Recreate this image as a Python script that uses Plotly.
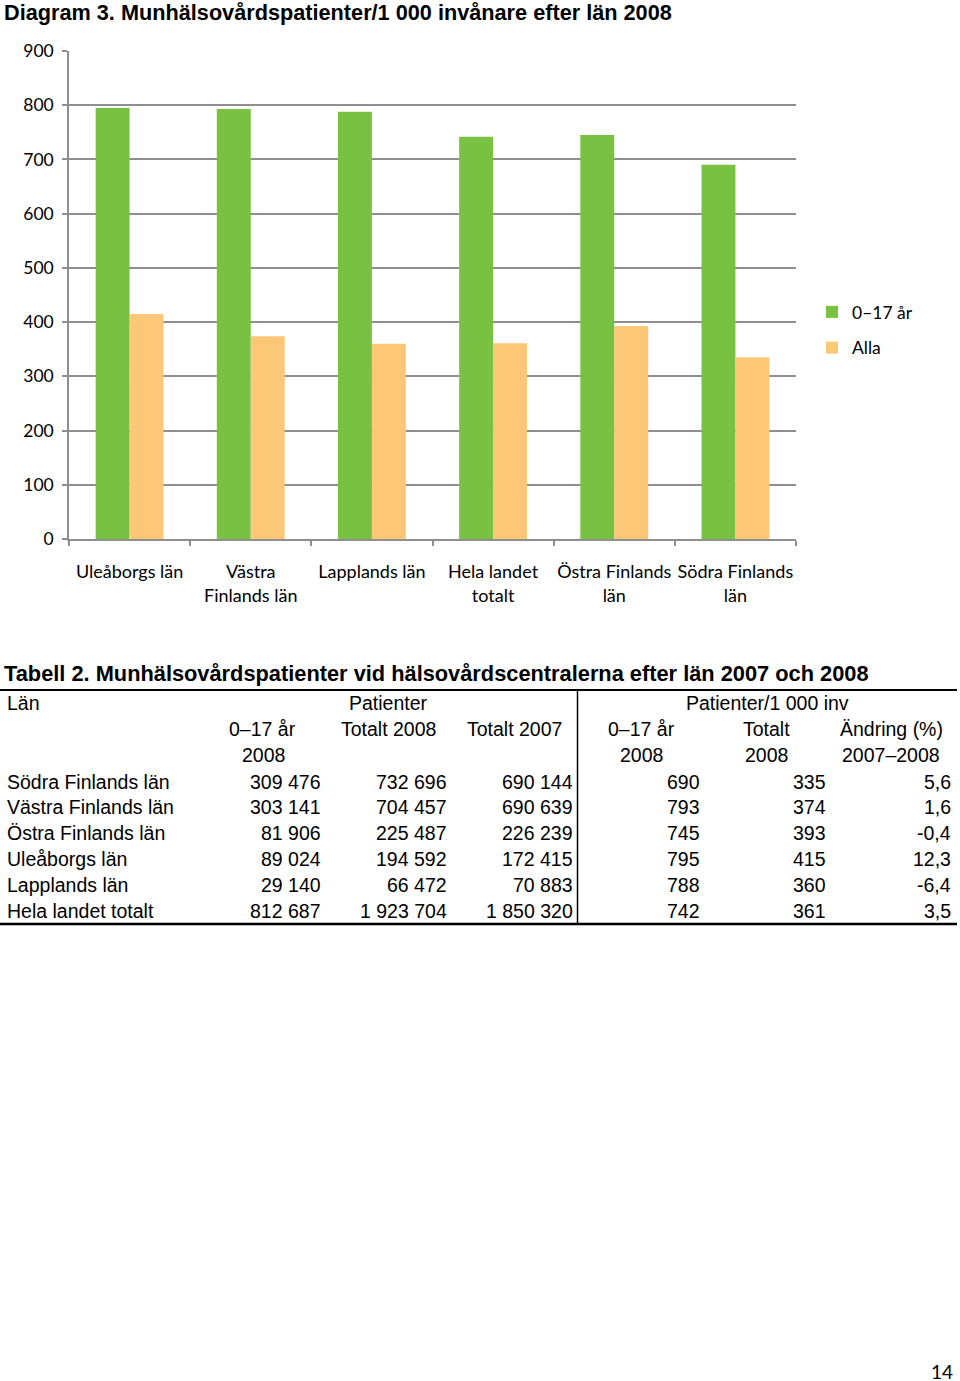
import plotly.graph_objects as go

W, H = 960, 1381

# ---- chart data ----
categories = ["Uleåborgs län", "Västra<br>Finlands län", "Lapplands län",
              "Hela landet<br>totalt", "Östra Finlands<br>län", "Södra Finlands<br>län"]
age_0_17 = [795, 793, 788, 742, 745, 690]
alla = [415, 374, 360, 361, 393, 335]
y_ticks = [0, 100, 200, 300, 400, 500, 600, 700, 800, 900]

# ---- table data ----
table_regions = ["Södra Finlands län", "Västra Finlands län", "Östra Finlands län",
                 "Uleåborgs län", "Lapplands län", "Hela landet totalt"]
pat_0_17_2008 = ["309 476", "303 141", "81 906", "89 024", "29 140", "812 687"]
pat_tot_2008 = ["732 696", "704 457", "225 487", "194 592", "66 472", "1 923 704"]
pat_tot_2007 = ["690 144", "690 639", "226 239", "172 415", "70 883", "1 850 320"]
inv_0_17_2008 = ["690", "793", "745", "795", "788", "742"]
inv_tot_2008 = ["335", "374", "393", "415", "360", "361"]
change_pct = ["5,6", "1,6", "-0,4", "12,3", "-6,4", "3,5"]

GREEN = "#79c143"
ORANGE = "#fcc877"
GRID = "#8f8f8f"
CAL = "Lato, Carlito, Calibri, sans-serif"
ARIAL = "Liberation Sans, Arial, sans-serif"


def px(x):
    return x / W


def py(y):
    return 1 - y / H


fig = go.Figure()
fig.add_trace(go.Bar(x=categories, y=age_0_17, name="0–17 år", marker_color=GREEN,
                     marker_line_width=0, legendgroup="a"))
fig.add_trace(go.Bar(x=categories, y=alla, name="Alla", marker_color=ORANGE,
                     marker_line_width=0, legendgroup="b"))

annotations = []
shapes = []

# Titles
annotations.append(dict(x=px(2), y=py(13), xref="paper", yref="paper", xanchor="left",
                        yanchor="middle", showarrow=False,
                        text="<b>Diagram 3. Munhälsovårdspatienter/1 000 invånare efter län 2008</b>",
                        font=dict(family=ARIAL, size=21.7, color="black")))
annotations.append(dict(x=px(2), y=py(673), xref="paper", yref="paper", xanchor="left",
                        yanchor="middle", showarrow=False,
                        text="<b>Tabell 2. Munhälsovårdspatienter vid hälsovårdscentralerna efter län 2007 och 2008</b>",
                        font=dict(family=ARIAL, size=21.8, color="black")))

TF = dict(family=ARIAL, size=19.5, color="black")


def txt(x, y, s, anchor):
    annotations.append(dict(x=px(x), y=py(y), xref="paper", yref="paper", xanchor=anchor,
                            yanchor="middle", showarrow=False, text=s, font=TF))


# header
txt(5, 703, "Län", "left")
txt(388, 703, "Patienter", "center")
txt(767, 703, "Patienter/1 000 inv", "center")
txt(262, 729, "0–17 år", "center")
txt(388, 729, "Totalt 2008", "center")
txt(514, 729, "Totalt 2007", "center")
txt(641, 729, "0–17 år", "center")
txt(766, 729, "Totalt", "center")
txt(891, 729, "Ändring (%)", "center")
txt(263, 755, "2008", "center")
txt(641, 755, "2008", "center")
txt(766, 755, "2008", "center")
txt(891, 755, "2007–2008", "center")

row_y0, row_h = 781.5, 25.9
cols = [(323, pat_0_17_2008), (449, pat_tot_2008), (575, pat_tot_2007),
        (702, inv_0_17_2008), (828, inv_tot_2008), (953, change_pct)]
for i, reg in enumerate(table_regions):
    yy = row_y0 + i * row_h
    txt(5, yy, reg, "left")
    for xr, col in cols:
        txt(xr, yy, col[i], "right")

# table lines
shapes.append(dict(type="line", xref="paper", yref="paper", x0=px(0), x1=px(957),
                   y0=py(690), y1=py(690), line=dict(color="black", width=2)))
shapes.append(dict(type="line", xref="paper", yref="paper", x0=px(0), x1=px(957),
                   y0=py(924), y1=py(924), line=dict(color="black", width=2.5)))
shapes.append(dict(type="line", xref="paper", yref="paper", x0=px(577.5), x1=px(577.5),
                   y0=py(690), y1=py(924), line=dict(color="black", width=1.5)))

# page number
annotations.append(dict(x=px(955), y=py(1371), xref="paper", yref="paper", xanchor="right",
                        yanchor="middle", showarrow=False, text="14",
                        font=dict(family=CAL, size=19, color="black")))

fig.update_layout(
    width=W, height=H,
    margin=dict(l=0, r=0, t=0, b=0, pad=0, autoexpand=False),
    paper_bgcolor="white", plot_bgcolor="white",
    barmode="group", bargap=0.44, bargroupgap=0,
    showlegend=True,
    legend=dict(x=px(812), y=py(294), xanchor="left", yanchor="top",
                font=dict(family=CAL, size=17.5, color="black"),
                traceorder="grouped", tracegroupgap=10,
                bgcolor="rgba(0,0,0,0)", itemwidth=30),
    xaxis=dict(domain=[px(69), px(796)], showline=True, linecolor=GRID, linewidth=1.5,
               ticks="outside", tickson="boundaries", ticklen=5, tickcolor=GRID,
               tickwidth=1.5, ticklabelstandoff=16, automargin=False, tickangle=0,
               tickfont=dict(family=CAL, size=18, color="black"), showgrid=False,
               fixedrange=True),
    yaxis=dict(domain=[py(539), py(51)], range=[0, 900], tickvals=y_ticks,
               showline=True, linecolor=GRID, linewidth=1.5, ticks="outside", ticklen=5,
               tickcolor=GRID, tickwidth=1.5, ticklabelstandoff=5, automargin=False,
               showgrid=True, gridcolor=GRID, gridwidth=1.5,
               zeroline=False, tickfont=dict(family=CAL, size=17.5, color="black"),
               fixedrange=True),
    annotations=annotations,
    shapes=shapes,
)

fig.write_html("out.html", config={"displayModeBar": False},
               post_script="document.body.style.margin='0px';document.body.style.overflow='hidden';")
